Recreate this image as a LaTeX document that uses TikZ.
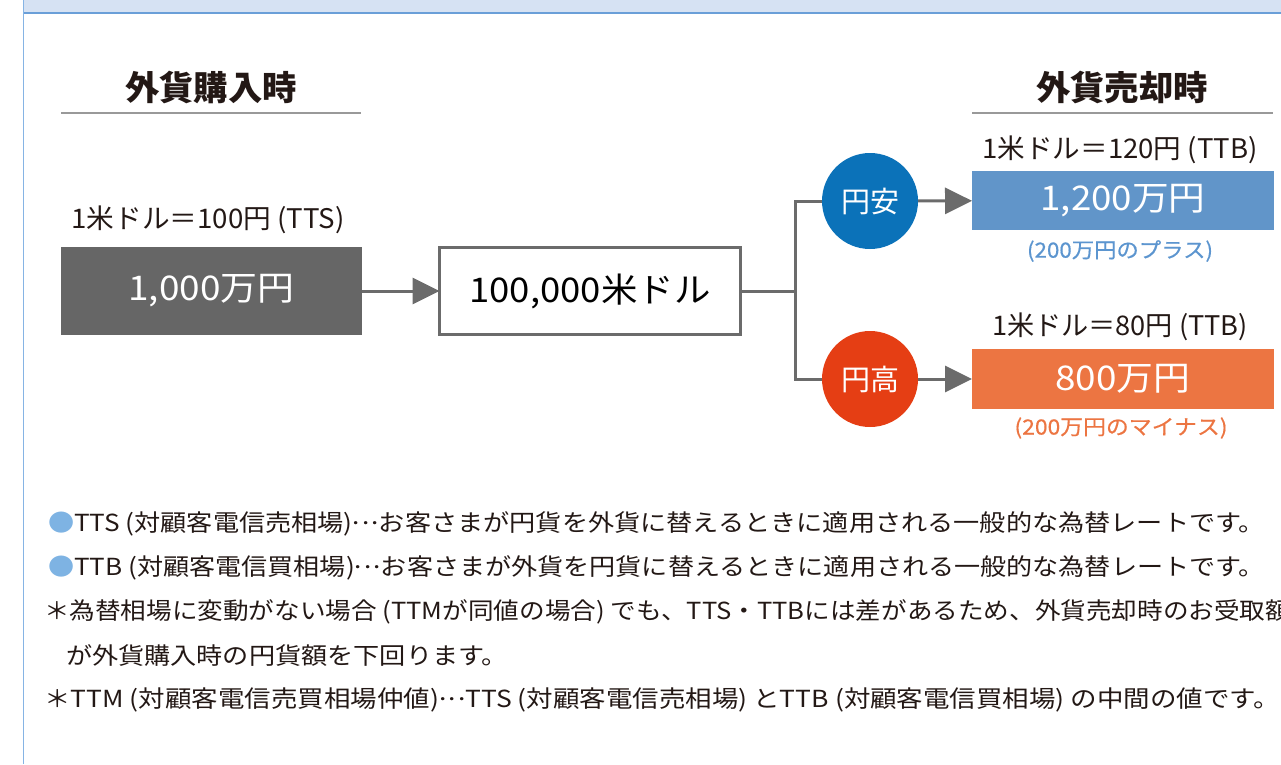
\documentclass[tikz,border=0pt]{standalone}
\usepackage{fontspec}
\usepackage{graphicx}
\setmainfont{Noto Sans CJK JP}
\newfontfamily\medfont[FakeBold=0.5]{Noto Sans CJK JP}
\newcommand\fitw[2]{\resizebox{#1}{\height}{#2}}
\newcommand\jellip{\makebox[1em]{\raisebox{0.3em}{.\hspace{0.08em}.\hspace{0.08em}.}}}
\usetikzlibrary{arrows.meta}
\definecolor{bandfill}{HTML}{D6E2F3}
\definecolor{bandline}{HTML}{6A9FD8}
\definecolor{leftline}{HTML}{86B4E4}
\definecolor{darkbox}{HTML}{666666}
\definecolor{conn}{HTML}{6B6B6B}
\definecolor{yasublue}{HTML}{0B72B9}
\definecolor{takared}{HTML}{E53E14}
\definecolor{boxblue}{HTML}{6195C9}
\definecolor{boxorange}{HTML}{EC7542}
\definecolor{txtblue}{HTML}{5C95CF}
\definecolor{txtorange}{HTML}{EC7542}
\definecolor{dotblue}{HTML}{7EB3E3}
\definecolor{bodytext}{HTML}{231815}
\begin{document}
\begin{tikzpicture}[x=1pt,y=-1pt,
  every node/.style={inner sep=0pt, outer sep=0pt},
  heading/.style={font=\fontsize{34}{38}\selectfont\bfseries, text=bodytext},
  rate/.style={font=\fontsize{27}{30}\selectfont, text=bodytext},
  bigtxt/.style={font=\fontsize{34}{38}\selectfont},
  note/.style={font=\fontsize{21}{24}\selectfont\medfont},
  body/.style={font=\fontsize{23.5}{28}\selectfont, text=bodytext, anchor=west},
  link/.style={draw=conn, line width=3pt},
  arr/.style={link, -{Triangle[length=27pt,width=26pt]}},
  hrule/.style={draw=gray!80, line width=1.2pt},
  result/.style={minimum width=302pt, bigtxt, text=white},
  circ/.style={circle, minimum size=96pt, text=white, font=\fontsize{29}{32}\selectfont}
]
\useasboundingbox (0,0) rectangle (1281,764);
% frame
\fill[bandfill] (23,0) rectangle (1281,13);
\draw[bandline, line width=1.5pt] (23,13) -- (1281,13);
\draw[leftline, line width=1.5pt] (23.5,0) -- (23.5,764);

% headings
\node[heading] (hbuy) at (211,87) {\fitw{172pt}{外貨購入時}};
\node[heading] (hsell) at (1122,87) {\fitw{172pt}{外貨売却時}};
\draw[hrule] (61,113) -- (361,113);
\draw[hrule] (972,113) -- (1273,113);

% left side
\node[rate] (rbuy) at (208,220) {\fitw{273pt}{1米ドル＝100円 (TTS)}};
\node[fill=darkbox, minimum width=301pt, minimum height=88pt, bigtxt, text=white] (yen) at (211.5,291) {\fitw{166pt}{1,000万円}};
\node[draw=conn, line width=3pt, fill=white, minimum width=301pt, minimum height=87pt, bigtxt, text=black] (usd) at (590,291) {\fitw{241pt}{100,000米ドル}};

% branch
\coordinate (jt) at (795,201);
\coordinate (jb) at (795,379);
\node[circ, fill=yasublue] (yasu) at (870,201) {円安};
\node[circ, fill=takared] (taka) at (870,379) {円高};
\draw[link] (usd.east) -- (usd.east -| jt);
\draw[link] (yasu.west) -- (jt) -- (jb) -- (taka.west);

% results
\node[result, fill=boxblue, minimum height=59pt] (up) at (1123,200.5) {\fitw{165pt}{1,200万円}};
\node[result, fill=boxorange, minimum height=60pt] (down) at (1123,379) {\fitw{135pt}{800万円}};
\node[rate] (rup) at (1120,150) {\fitw{275pt}{1米ドル＝120円 (TTB)}};
\node[rate] (rdown) at (1120,327) {\fitw{256pt}{1米ドル＝80円 (TTB)}};
\node[note, text=txtblue] (nup) at (1120,251) {\fitw{186pt}{(200万円のプラス)}};
\node[note, text=txtorange] (ndown) at (1121,428) {\fitw{213pt}{(200万円のマイナス)}};

% arrows
\draw[arr] (yen) -- (usd);
\draw[arr] (yasu) -- (up);
\draw[arr] (taka) -- (down);

% notes
\node[body] (l1) at (48,524) {\fitw{1217pt}{\textcolor{dotblue}{●}TTS (対顧客電信売相場)\jellip お客さまが円貨を外貨に替えるときに適用される一般的な為替レートです。}};
\node[body] (l2) at (48,568) {\fitw{1217pt}{\textcolor{dotblue}{●}TTB (対顧客電信買相場)\jellip お客さまが外貨を円貨に替えるときに適用される一般的な為替レートです。}};
\node[body] (l3) at (44,612) {\fitw{1247pt}{＊為替相場に変動がない場合 (TTMが同値の場合) でも、TTS・TTBには差があるため、外貨売却時のお受取額}};
\node[body] (l4) at (66,656) {\fitw{442pt}{が外貨購入時の円貨額を下回ります。}};
\node[body] (l5) at (44,700) {\fitw{1236pt}{＊TTM (対顧客電信売買相場仲値)\jellip TTS (対顧客電信売相場) とTTB (対顧客電信買相場) の中間の値です。}};
\end{tikzpicture}
\end{document}
